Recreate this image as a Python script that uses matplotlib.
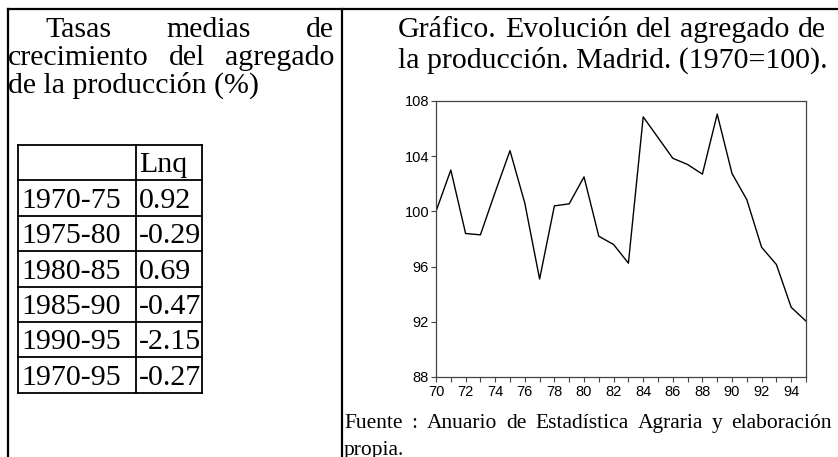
import matplotlib
matplotlib.use("Agg")
import matplotlib.pyplot as plt
from matplotlib.lines import Line2D

# ---------------- data ----------------
years = list(range(1970, 1996))
index_values = [100.0, 103.0, 98.4, 98.3, 101.4, 104.4, 100.6, 95.1, 100.4, 100.55,
                102.5, 98.2, 97.6, 96.25, 106.85, 105.35, 103.85, 103.4, 102.7, 107.05,
                102.75, 100.85, 97.4, 96.15, 93.05, 92.05]
y_ticks = [88, 92, 96, 100, 104, 108]
x_tick_labels = [str(y % 100) if (y % 2 == 0 and y < 1995) else "" for y in years]

table_periods = ["1970-75", "1975-80", "1980-85", "1985-90", "1990-95", "1970-95"]
table_header = "Lnq"
table_values = ["0.92", "-0.29", "0.69", "-0.47", "-2.15", "-0.27"]

left_title = ["Tasas medias de", "crecimiento del agregado", "de la producción (%)"]
right_title = ["Gráfico. Evolución del agregado de", "la producción. Madrid. (1970=100)."]
source_note = ["Fuente : Anuario de Estadística Agraria y elaboración", "propia."]

# ---------------- figure ----------------
W, H = 838, 457
fig = plt.figure(figsize=(W / 100, H / 100), dpi=100)
bg = fig.add_axes([0, 0, 1, 1])
bg.set_xlim(0, W)
bg.set_ylim(H, 0)
bg.axis("off")

SERIF = ["Liberation Serif", "DejaVu Serif"]
SANS = ["Liberation Sans", "DejaVu Sans"]
renderer = fig.canvas.get_renderer()


def put_line(words, x0, x1, y, fs, justify=True, indent=0):
    if not justify or len(words) == 1:
        bg.text(x0 + indent, y, " ".join(words), fontsize=fs, family=SERIF,
                ha="left", va="baseline")
        return
    texts = [bg.text(0, y, w, fontsize=fs, family=SERIF, ha="left", va="baseline")
             for w in words]
    widths = [t.get_window_extent(renderer).width for t in texts]
    start = x0 + indent
    gap = (x1 - start - sum(widths)) / (len(words) - 1)
    x = start
    for t, w in zip(texts, widths):
        t.set_x(x)
        x += w + gap


# frame lines
lw_frame = 1.6
bg.add_line(Line2D([8, 8], [9, H], color="black", lw=lw_frame))
bg.add_line(Line2D([8, W], [9, 9], color="black", lw=lw_frame))
bg.add_line(Line2D([342, 342], [9, H], color="black", lw=lw_frame))

# left title text (justified)
fs_big = 21.5
put_line(left_title[0].split(), 8, 334, 37, fs_big, indent=37)
put_line(left_title[1].split(), 8, 334, 65, fs_big)
put_line(left_title[2].split(), 8, 334, 93, fs_big, justify=False)

# table
tx0, tx1, tx2 = 18, 136, 202
row_edges = [145, 180, 216, 251, 287, 322, 357, 393]
lw_tab = 1.3
for ye in row_edges:
    bg.add_line(Line2D([tx0, tx2], [ye, ye], color="black", lw=lw_tab))
for xe in (tx0, tx1, tx2):
    bg.add_line(Line2D([xe, xe], [row_edges[0], row_edges[-1]], color="black", lw=lw_tab))
bg.text(tx1 + 3, row_edges[1] - 8, table_header, fontsize=fs_big, family=SERIF,
        ha="left", va="baseline")
for i, (p, v) in enumerate(zip(table_periods, table_values)):
    yb = row_edges[i + 2] - 8
    bg.text(tx0 + 3, yb, p, fontsize=fs_big, family=SERIF, ha="left", va="baseline")
    bg.text(tx1 + 3, yb, v, fontsize=fs_big, family=SERIF, ha="left", va="baseline")

# right title
put_line(right_title[0].split(), 398, 826, 37, fs_big)
put_line(right_title[1].split(), 398, 826, 68, fs_big, justify=False)

# source note
put_line(source_note[0].split(), 344, 832, 428, 15.5)
put_line(source_note[1].split(), 344, 832, 455, 15.5, justify=False)

# ---------------- chart ----------------
ax_l, ax_r, ax_t, ax_b = 436, 806, 101, 377
ax = fig.add_axes([ax_l / W, (H - ax_b) / H, (ax_r - ax_l) / W, (ax_b - ax_t) / H])
ax.plot(years, index_values, color="black", lw=1.0)
ax.set_xlim(1970, 1995)
ax.set_ylim(88, 108)
ax.set_yticks(y_ticks)
ax.set_yticklabels([str(v) for v in y_ticks])
ax.set_xticks(years)
ax.set_xticklabels(x_tick_labels)
for s in ax.spines.values():
    s.set_color("#444444")
    s.set_linewidth(0.9)
ax.tick_params(axis="both", direction="out", length=3.5, width=0.8, color="#444444",
               labelsize=10.5, pad=1.5)
ax.tick_params(axis="x", pad=2.5)
for lab in ax.get_xticklabels() + ax.get_yticklabels():
    lab.set_family(SANS)

fig.savefig("out.png", dpi=100)
